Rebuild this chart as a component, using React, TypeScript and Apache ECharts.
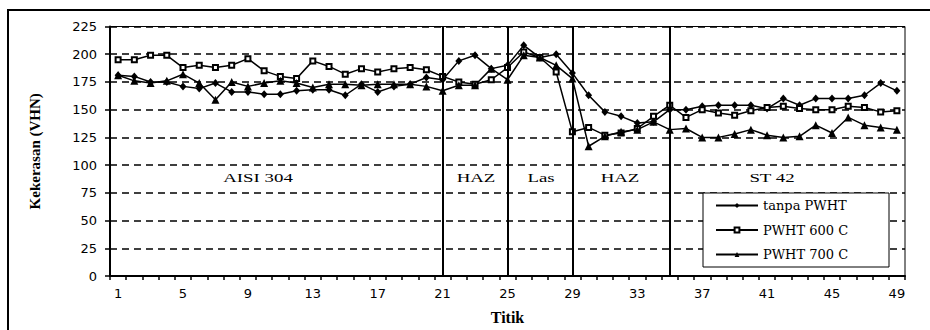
import React, { useEffect, useRef } from "react";
import * as echarts from "echarts";

const categories = [
  "1", "2", "3", "4", "5", "6", "7", "8", "9", "10",
  "11", "12", "13", "14", "15", "16", "17", "18", "19", "20",
  "21", "22", "23", "24", "25", "26", "27", "28", "29", "30",
  "31", "32", "33", "34", "35", "36", "37", "38", "39", "40",
  "41", "42", "43", "44", "45", "46", "47", "48", "49",
];

const seriesNames = ["tanpa PWHT", "PWHT 600 C", "PWHT 700 C"];

const tanpaPWHT = [
  181, 180, 175, 175, 171, 169, 174, 166, 166, 164,
  164, 167, 168, 168, 163, 173, 166, 171, 173, 179,
  177, 194, 199, 187, 190, 208, 197, 200, 183, 163,
  148, 144, 138, 139, 150, 150, 153, 154, 154, 154,
  151, 160, 154, 160, 160, 160, 163, 174, 167,
];

const pwht600 = [
  195, 195, 199, 199, 188, 190, 188, 190, 196, 185,
  180, 178, 194, 189, 182, 187, 184, 187, 188, 186,
  180, 175, 173, 177, 188, 202, 197, 184, 130, 134,
  127, 129, 133, 144, 154, 143, 150, 147, 145, 149,
  152, 153, 151, 150, 150, 153, 152, 148, 149,
];

const pwht700 = [
  181, 176, 174, 176, 182, 174, 159, 175, 171, 174,
  176, 174, 170, 173, 173, 172, 173, 173, 173, 171,
  167, 172, 172, 187, 177, 199, 197, 190, 178, 117,
  126, 130, 132, 139, 132, 133, 125, 125, 128, 132,
  127, 125, 126, 136, 129, 143, 136, 134, 132,
];

const zoneBoundaries = ["21", "25", "29", "35"];
const zoneLabels = ["AISI 304", "HAZ", "Las", "HAZ", "ST 42"];
const zoneLabelX = [258, 476, 541, 620, 772];

const yAxisTitle = "Kekerasan (VHN)";
const xAxisTitle = "Titik";

export default function App() {
  const ref = useRef<HTMLDivElement>(null);

  useEffect(() => {
    if (!ref.current) return;
    const chart = echarts.init(ref.current, null, { renderer: "svg" });

    const baseLine = { color: "#000", width: 1.5 };

    const option: any = {
      animation: false,
      backgroundColor: "#fff",
      grid: {
        left: 110,
        right: 25,
        top: 26.5,
        bottom: 53,
        show: true,
        borderColor: "#000",
        borderWidth: 1,
        backgroundColor: "transparent",
      },
      legend: {
        orient: "vertical",
        left: 703,
        top: 193,
        itemWidth: 42,
        itemHeight: 6,
        itemGap: 9.5,
        padding: [5, 8, 5, 12],
        backgroundColor: "#fff",
        borderColor: "#000",
        borderWidth: 1,
        selectedMode: false,
        textStyle: {
          fontFamily: "DejaVu Serif",
          fontSize: 13,
          lineHeight: 15,
          color: "#000",
          width: 118,
          overflow: "truncate",
        },
        data: seriesNames,
      },
      xAxis: {
        type: "category",
        data: categories,
        boundaryGap: true,
        name: xAxisTitle,
        nameLocation: "middle",
        nameGap: 33,
        nameTextStyle: {
          fontFamily: "Liberation Serif",
          fontWeight: "bold",
          fontSize: 16,
          color: "#000",
        },
        axisLine: { show: true, lineStyle: { color: "#000", width: 2 } },
        axisTick: {
          show: true,
          interval: 0,
          length: 4,
          lineStyle: { color: "#000", width: 1.5 },
        },
        axisLabel: {
          interval: 3,
          color: "#000",
          fontFamily: "DejaVu Sans",
          fontSize: 13,
          margin: 11,
        },
        splitLine: { show: false },
      },
      yAxis: {
        type: "value",
        min: 0,
        max: 225,
        interval: 25,
        name: yAxisTitle,
        nameLocation: "middle",
        nameRotate: 90,
        nameGap: 68,
        nameTextStyle: {
          fontFamily: "Liberation Serif",
          fontWeight: "bold",
          fontSize: 15,
          color: "#000",
        },
        axisLine: { show: true, lineStyle: { color: "#000", width: 2 } },
        axisTick: {
          show: true,
          length: 5,
          lineStyle: { color: "#000", width: 1.5 },
        },
        axisLabel: {
          color: "#000",
          fontFamily: "DejaVu Sans",
          fontSize: 13,
          margin: 13,
        },
        splitLine: {
          show: true,
          lineStyle: { color: "#000", type: [7, 5], width: 1.5 },
        },
      },
      series: [
        {
          name: seriesNames[0],
          type: "line",
          data: tanpaPWHT,
          symbol: "diamond",
          symbolSize: [7, 8],
          lineStyle: baseLine,
          itemStyle: { color: "#000" },
          z: 3,
          markLine: {
            silent: true,
            symbol: "none",
            label: { show: false },
            lineStyle: { color: "#000", width: 2, type: "solid" },
            data: zoneBoundaries.map((v) => ({ xAxis: v })),
          },
        },
        {
          name: seriesNames[1],
          type: "line",
          data: pwht600,
          symbol: "emptyRect",
          symbolSize: 5,
          lineStyle: baseLine,
          itemStyle: { color: "#000" },
          z: 3,
        },
        {
          name: seriesNames[2],
          type: "line",
          data: pwht700,
          symbol: "triangle",
          symbolSize: 8,
          lineStyle: baseLine,
          itemStyle: { color: "#000" },
          z: 3,
        },
      ],
      graphic: [
        {
          type: "rect",
          silent: true,
          z: -10,
          shape: { x: 8, y: 10, width: 1000, height: 1000 },
          style: { fill: "none", stroke: "#000", lineWidth: 2 },
        },
        ...zoneLabels.map((t, i) => ({
          type: "text",
          silent: true,
          x: zoneLabelX[i],
          y: 178,
          scaleX: 1.45,
          style: {
            text: t,
            fontFamily: "Liberation Serif",
            fontSize: 13,
            fill: "#000",
            align: "center",
            verticalAlign: "middle",
          },
        })),
      ],
    };

    chart.setOption(option);
    return () => chart.dispose();
  }, []);

  return (
    <div
      ref={ref}
      style={{ position: "absolute", left: 0, top: 0, width: 930, height: 330 }}
    />
  );
}
